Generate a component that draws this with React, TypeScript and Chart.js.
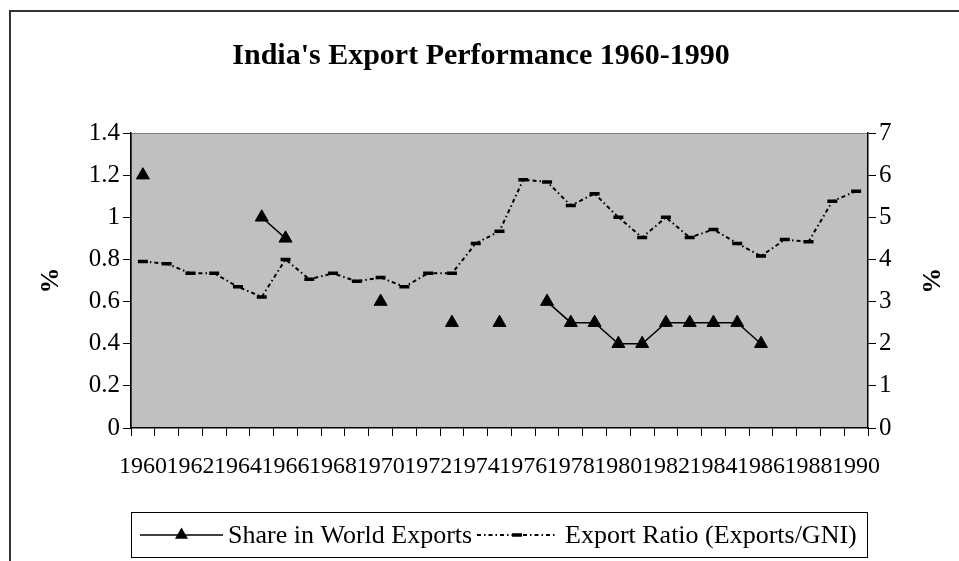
import React, { useEffect, useRef } from "react";
import { Chart, registerables } from "chart.js";

Chart.register(...registerables);

const years = [
  "1960", "1961", "1962", "1963", "1964", "1965", "1966", "1967", "1968", "1969",
  "1970", "1971", "1972", "1973", "1974", "1975", "1976", "1977", "1978", "1979",
  "1980", "1981", "1982", "1983", "1984", "1985", "1986", "1987", "1988", "1989", "1990",
];

const shareInWorldExports: (number | null)[] = [
  1.2, null, null, null, null, 1.0, 0.9, null, null, null,
  0.6, null, null, 0.5, null, 0.5, null, 0.6, 0.5, 0.5,
  0.4, 0.4, 0.5, 0.5, 0.5, 0.5, 0.4, null, null, null, null,
];

const exportRatio: number[] = [
  3.95, 3.9, 3.67, 3.67, 3.35, 3.11, 4.0, 3.53, 3.67, 3.48,
  3.57, 3.35, 3.67, 3.67, 4.38, 4.67, 5.89, 5.84, 5.28, 5.56,
  5.0, 4.52, 5.0, 4.52, 4.71, 4.38, 4.08, 4.47, 4.42, 5.38, 5.62,
];

const leftTickLabels = ["0", "0.2", "0.4", "0.6", "0.8", "1", "1.2", "1.4"];
const rightTickLabels = ["0", "1", "2", "3", "4", "5", "6", "7"];

const titleText = "India's Export Performance 1960-1990";
const seriesNames = ["Share in World Exports", "Export Ratio (Exports/GNI)"];

const FONT = "'Times New Roman', 'Liberation Serif', serif";
const RATIO_DASH = [4, 3, 1.5, 3];

const decorPlugin = {
  id: "decor",
  beforeDraw(chart: any) {
    const { ctx, chartArea: a } = chart;
    ctx.save();
    ctx.fillStyle = "#ffffff";
    ctx.fillRect(0, 0, chart.width, chart.height);
    ctx.fillStyle = "#c0c0c0";
    ctx.fillRect(a.left, a.top, a.right - a.left, a.bottom - a.top);
    ctx.strokeStyle = "#808080";
    ctx.lineWidth = 1;
    ctx.strokeRect(a.left + 0.5, a.top + 0.5, a.right - a.left - 1, a.bottom - a.top - 1);
    // outer frame
    ctx.strokeStyle = "#333333";
    ctx.lineWidth = 2;
    ctx.beginPath();
    ctx.moveTo(10, chart.height + 5);
    ctx.lineTo(10, 11);
    ctx.lineTo(chart.width + 5, 11);
    ctx.stroke();
    ctx.restore();
  },
  afterDraw(chart: any) {
    const { ctx } = chart;
    ctx.save();
    // title
    ctx.fillStyle = "#000";
    ctx.font = `bold 30px ${FONT}`;
    ctx.textAlign = "center";
    ctx.textBaseline = "alphabetic";
    ctx.fillText(titleText, 481, 64);

    // legend box
    ctx.strokeStyle = "#000";
    ctx.lineWidth = 1;
    ctx.strokeRect(131.5, 512.5, 736, 45);
    const ly = 535;
    // item 1
    ctx.lineWidth = 1.5;
    ctx.beginPath();
    ctx.moveTo(140, ly);
    ctx.lineTo(223, ly);
    ctx.stroke();
    const r = 7.5;
    ctx.beginPath();
    ctx.moveTo(181.5, ly - r);
    ctx.lineTo(181.5 + r * 0.866, ly + r * 0.5);
    ctx.lineTo(181.5 - r * 0.866, ly + r * 0.5);
    ctx.closePath();
    ctx.fillStyle = "#000";
    ctx.fill();
    ctx.font = `26px ${FONT}`;
    ctx.textAlign = "left";
    ctx.textBaseline = "middle";
    ctx.fillText(seriesNames[0], 228, ly + 1);
    // item 2
    ctx.setLineDash(RATIO_DASH);
    ctx.lineWidth = 2;
    ctx.beginPath();
    ctx.moveTo(477, ly);
    ctx.lineTo(557, ly);
    ctx.stroke();
    ctx.setLineDash([]);
    ctx.lineWidth = 3.5;
    ctx.beginPath();
    ctx.moveTo(512, ly);
    ctx.lineTo(522, ly);
    ctx.stroke();
    ctx.fillText(seriesNames[1], 565, ly + 1);
    ctx.restore();
  },
};

export default function App() {
  const ref = useRef<HTMLCanvasElement | null>(null);

  useEffect(() => {
    if (!ref.current) return;
    const chart = new Chart(ref.current, {
      type: "line",
      data: {
        labels: years,
        datasets: [
          {
            label: seriesNames[0],
            data: shareInWorldExports,
            yAxisID: "y",
            borderColor: "#000",
            backgroundColor: "#000",
            borderWidth: 1.5,
            pointStyle: "triangle",
            pointRadius: 7.5,
            pointBorderWidth: 1,
            pointBackgroundColor: "#000",
            pointBorderColor: "#000",
            spanGaps: false,
            tension: 0,
          },
          {
            label: seriesNames[1],
            data: exportRatio,
            yAxisID: "y1",
            borderColor: "#000",
            backgroundColor: "#000",
            borderWidth: 2,
            borderDash: RATIO_DASH,
            pointStyle: "line",
            pointRadius: 5,
            pointBorderWidth: 3.5,
            pointBorderColor: "#000",
            tension: 0,
          },
        ],
      },
      options: {
        animation: false,
        responsive: false,
        devicePixelRatio: 1,
        layout: { padding: { top: 133, left: 0, right: 0, bottom: 0 } },
        plugins: {
          legend: { display: false },
          title: { display: false },
          tooltip: { enabled: false },
        },
        scales: {
          x: {
            type: "category",
            offset: true,
            grid: {
              offset: true,
              drawOnChartArea: false,
              drawTicks: true,
              tickLength: 8,
              color: "#000",
              lineWidth: 1,
            },
            border: { display: true, color: "#000", width: 1.5 },
            ticks: {
              autoSkip: false,
              maxRotation: 0,
              minRotation: 0,
              padding: 16,
              color: "#000",
              font: { family: FONT, size: 24 },
              callback: (_v: any, i: number) => (i % 2 === 0 ? years[i] : ""),
            },
            afterFit: (s: any) => {
              s.height = 133;
            },
          },
          y: {
            position: "left",
            min: 0,
            max: 1.4,
            grid: {
              drawOnChartArea: false,
              drawTicks: true,
              tickLength: 8,
              color: "#000",
            },
            border: { display: true, color: "#000", width: 1.5 },
            ticks: {
              stepSize: 0.2,
              padding: 3,
              color: "#000",
              font: { family: FONT, size: 25 },
              callback: (_v: any, i: number) => leftTickLabels[i],
            },
            title: {
              display: true,
              text: "%",
              color: "#000",
              font: { family: FONT, size: 26, weight: "bold" },
              padding: { top: 36, bottom: 0 },
            },
            afterFit: (s: any) => {
              s.width = 131;
            },
          },
          y1: {
            position: "right",
            min: 0,
            max: 7,
            grid: {
              drawOnChartArea: false,
              drawTicks: true,
              tickLength: 8,
              color: "#000",
            },
            border: { display: true, color: "#000", width: 1.5 },
            ticks: {
              stepSize: 1,
              padding: 3,
              color: "#000",
              font: { family: FONT, size: 25 },
              callback: (_v: any, i: number) => rightTickLabels[i],
            },
            title: {
              display: true,
              text: "%",
              color: "#000",
              font: { family: FONT, size: 26, weight: "bold" },
              padding: { top: 14, bottom: 0 },
            },
            afterFit: (s: any) => {
              s.width = 91;
            },
          },
        },
      } as any,
      plugins: [decorPlugin],
    });
    return () => chart.destroy();
  }, []);

  return (
    <div style={{ position: "fixed", left: 0, top: 0, width: 959, height: 561 }}>
      <canvas ref={ref} width={959} height={561} style={{ display: "block" }} />
    </div>
  );
}
